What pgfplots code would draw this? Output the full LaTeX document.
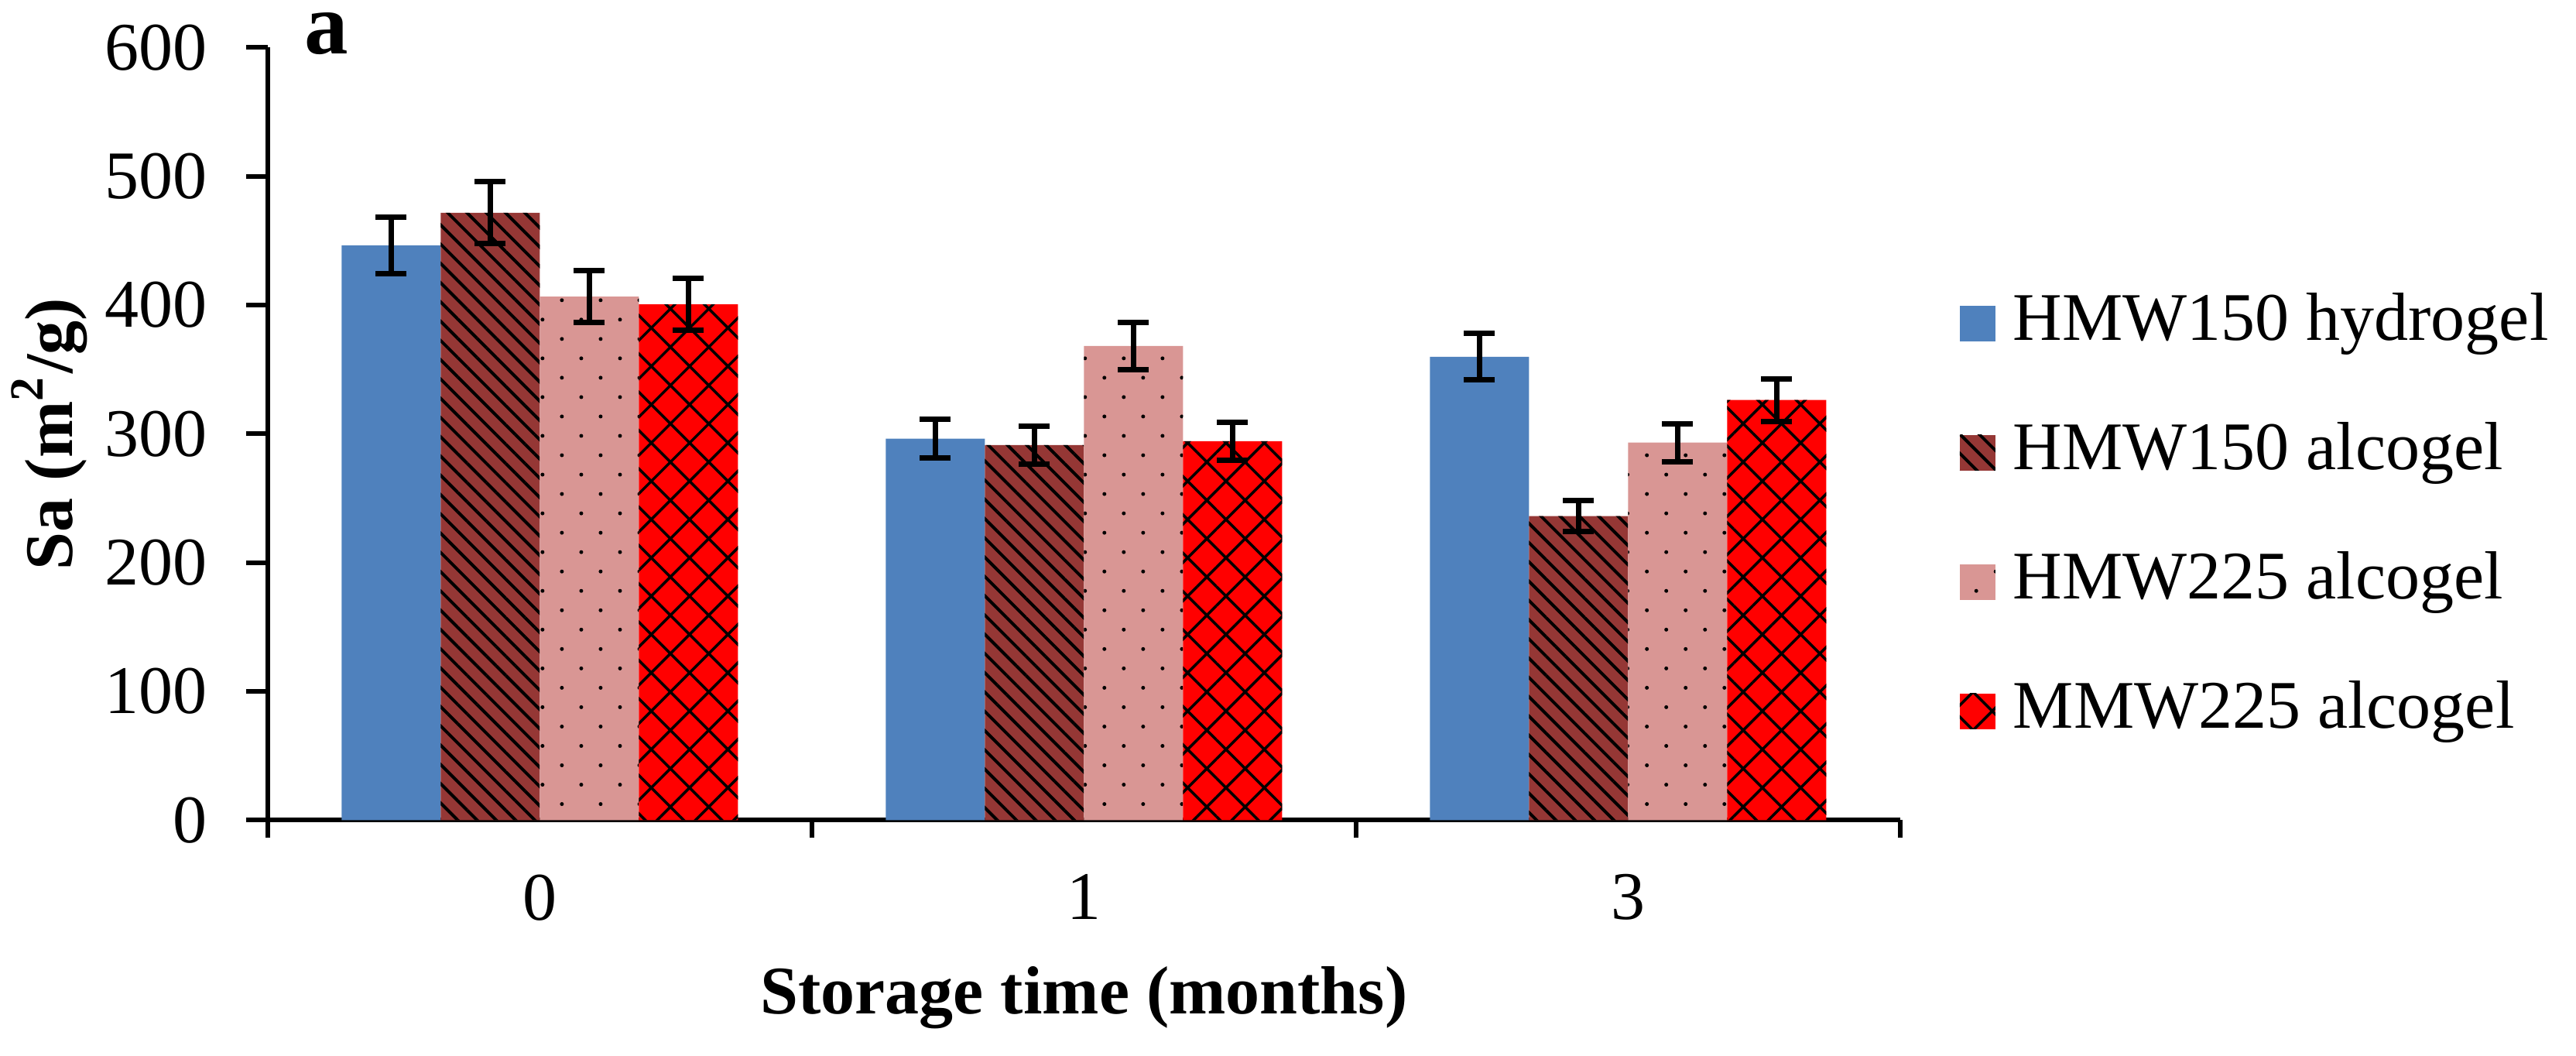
\documentclass[border=0pt]{standalone}
\usepackage{fontspec}
\setmainfont{Liberation Serif}
\usepackage{pgfplots}
\pgfplotsset{compat=1.18}
\usetikzlibrary{patterns.meta}
\definecolor{c1}{HTML}{4F81BD}
\definecolor{c2}{HTML}{953735}
\definecolor{c3}{HTML}{D99694}
\definecolor{c4}{HTML}{FF0000}
\pgfplotsset{sq/.style={legend image code/.code={\path[##1] (0pt,-2.3pt) rectangle (4.6pt,2.3pt);}}}
\begin{document}
\fontsize{8.8}{10.5}\selectfont
\begin{tikzpicture}
\useasboundingbox (-34.6pt,-30.45pt) rectangle (298.2pt,105.95pt);
\begin{axis}[
 at={(0,0)}, anchor=south west,
 scale only axis, width=210.9pt, height=99.8pt,
 ybar=0pt, bar width=12.8pt,
 xmin=-0.5, xmax=2.5, ymin=0, ymax=600,
 ytick={0,100,...,600},
 xtick={-0.5,0.5,1.5,2.5}, xticklabels={0,1,3,{}},
 xticklabel style={xshift=35.15pt, yshift=0.4pt},
 yticklabel style={xshift=-0.4pt},
 axis x line*=bottom, axis y line*=left,
 axis line style={line width=0.6pt, -},
 every tick/.style={line width=0.6pt, black},
 tick align=outside,
 xtick style={/pgfplots/major tick length=2.3pt},
 ytick style={/pgfplots/major tick length=2.8pt},
 /pgf/number format/assume math mode=true,
 xlabel={\textbf{Storage time (months)}},
 ylabel={\textbf{Sa (m\textsuperscript{2}/g)}},
 xlabel style={at={(axis description cs:0.5,-0.2295)}, anchor=center},
 ylabel style={at={(axis description cs:-0.1337,0.5)}, anchor=center},
 legend style={at={(axis description cs:1.0365,0.3918)}, anchor=west, draw=none, fill=none,
   inner sep=0pt, outer sep=0pt, row sep=8.6pt, column sep=2.3pt,
   nodes={inner sep=0pt, text height=6.2pt, text depth=1.9pt}},
 legend cell align=left,
 /pgfplots/error bars/y dir=both,
 /pgfplots/error bars/y explicit,
 /pgfplots/error bars/error bar style={line width=0.7pt, black},
 /pgfplots/error bars/error mark options={rotate=90, mark size=2pt, line width=0.7pt, black},
]
\addplot[fill=c1, draw=none, sq] coordinates {(0,446.5) +- (0,22) (1,296.3) +- (0,15) (2,359.9) +- (0,18)};
\addlegendentry{HMW150 hydrogel}
\addplot[fill=c2, draw=none, postaction={pattern={Lines[angle=-45,distance=1.76pt,line width=0.4pt]}, pattern color=black}, sq] coordinates {(0,471.7) +- (0,24) (1,291.3) +- (0,14.5) (2,236.2) +- (0,11.8)};
\addlegendentry{HMW150 alcogel}
\addplot[fill=c3, draw=none, postaction={pattern={Dots[angle=45,distance=3.54pt,radius=0.25pt]}, pattern color=black}, sq] coordinates {(0,406.6) +- (0,20) (1,368.3) +- (0,18.4) (2,293.3) +- (0,14.7)};
\addlegendentry{HMW225 alcogel}
\addplot[fill=c4, draw=none, postaction={pattern={Hatch[angle=45,distance=3.5pt,line width=0.35pt]}, pattern color=black}, sq] coordinates {(0,400.6) +- (0,20) (1,294.3) +- (0,14.6) (2,326.3) +- (0,16.5)};
\addlegendentry{MMW225 alcogel}
\end{axis}
\node[font=\fontsize{11.3}{13}\selectfont\bfseries, inner sep=0pt] at (7.6pt,101.6pt) {a};
\end{tikzpicture}
\end{document}
